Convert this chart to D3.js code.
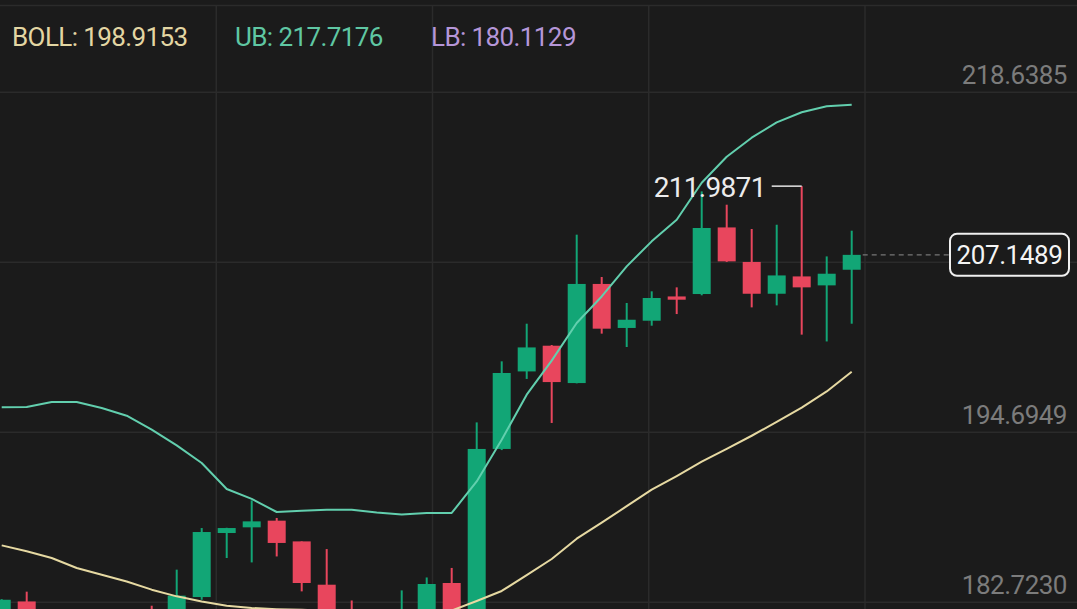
<!DOCTYPE html>
<html>
<head>
<meta charset="utf-8">
<script src="https://cdn.jsdelivr.net/npm/d3@7"></script>
<style>
  html, body { margin: 0; padding: 0; background: #1b1b1b; overflow: hidden; }
  svg { display: block; font-family: Roboto, "Noto Sans", sans-serif; }
</style>
</head>
<body>
<svg id="chart" width="1077" height="609"></svg>
<script>
// ---- data ----
const opens  = [181.5, 182.74, 181.6, 180.9, 181.3, 180.6, 181.5, 181.2, 183.05, 187.56, 187.96, 188.43, 186.97, 183.92, 182.0, 181.0, 181.3, 182.0, 184.04, 181.9, 193.48, 198.94, 200.75, 198.12, 205.10, 202.00, 202.51, 204.22, 204.39, 209.08, 206.65, 204.41, 205.63, 205.00, 206.10];
const highs  = [182.9, 183.43, 182.0, 181.9, 181.8, 181.7, 182.44, 184.98, 187.91, 187.93, 189.86, 188.62, 186.97, 186.43, 182.81, 182.0, 183.52, 184.43, 185.10, 195.35, 199.65, 202.30, 200.80, 208.57, 205.59, 203.76, 204.58, 204.86, 211.62, 210.68, 208.97, 209.27, 211.9871, 207.04, 208.85];
const lows   = [180.8, 181.0, 180.5, 180.4, 180.2, 180.0, 180.4, 180.8, 182.86, 185.80, 185.49, 185.91, 183.45, 181.2, 180.6, 180.5, 181.0, 181.7, 181.5, 181.6, 193.40, 198.41, 195.31, 198.10, 201.60, 200.66, 202.16, 202.98, 204.30, 206.65, 203.45, 203.59, 201.53, 201.05, 202.30];
const closes = [182.86, 181.6, 180.9, 181.3, 180.6, 181.0, 180.9, 183.15, 187.63, 187.91, 188.38, 186.86, 184.04, 181.6, 181.0, 181.4, 182.1, 183.97, 181.9, 193.48, 198.83, 200.63, 198.19, 205.10, 201.95, 202.58, 204.11, 203.99, 209.04, 206.69, 204.41, 205.70, 204.86, 205.82, 207.1489];
const bollMid = [186.69, 186.27, 185.80, 185.10, 184.62, 184.15, 183.57, 183.10, 182.74, 182.44, 182.28, 182.2, 182.15, 182.1, 182.0, 181.95, 181.95, 182.0, 182.1, 182.77, 183.48, 184.59, 185.73, 187.16, 188.29, 189.45, 190.61, 191.57, 192.58, 193.49, 194.41, 195.38, 196.39, 197.53, 198.9153];
const bollUB = [196.41, 196.43, 196.79, 196.79, 196.36, 195.82, 194.84, 193.73, 192.49, 190.66, 189.96, 189.04, 189.13, 189.20, 189.20, 189.01, 188.87, 188.97, 188.97, 191.19, 194.13, 197.30, 199.70, 202.35, 204.22, 206.34, 208.10, 209.62, 212.23, 214.06, 215.40, 216.48, 217.19, 217.62, 217.7176];
const bollLB = [176.97, 176.11, 174.81, 173.41, 172.88, 172.48, 172.30, 172.47, 172.99, 174.22, 174.60, 175.36, 175.17, 175.00, 174.80, 174.89, 175.03, 175.03, 175.23, 174.35, 172.83, 171.88, 171.76, 171.97, 172.36, 172.56, 173.12, 173.52, 172.93, 172.92, 173.42, 174.28, 175.59, 177.44, 180.1129];
const categories = opens.map((d, i) => i);
const yTicks = [218.6385, 206.6667, 194.6949, 182.7230];
const yTickLabels = ["218.6385", "", "194.6949", "182.7230"]; // middle label hidden behind the price tag
const legendLabels = ["BOLL", "UB", "LB"];
const legendValues = [198.9153, 217.7176, 180.1129];
const lastPrice = 207.1489;
const highMarkIndex = 32;

// ---- layout / style ----
const W = 1077, H = 609;
const plotRight = 865;
const colors = {
  bg: "#1b1b1b", grid: "#2b2b2b", axisText: "#7c7c7c",
  up: "#12a676", down: "#e8465d",
  ub: "#62cfae", mid: "#e6d9a2", lb: "#b596d8",
  legend: ["#e3d6a3", "#5fc7a3", "#b596d8"]
};

const svg = d3.select("#chart");
svg.append("rect").attr("width", W).attr("height", H).attr("fill", colors.bg);

const x = d3.scalePoint().domain(categories).range([1.7, 851.7]);
const y = d3.scaleLinear().domain([182.7230, 218.6385]).range([601.7, 91.7]);

// grid: top border
svg.append("line").attr("x1", 0).attr("x2", W).attr("y1", 5.5).attr("y2", 5.5)
  .attr("stroke", colors.grid).attr("stroke-width", 1.5);
// vertical grid
const vFracs = [0.25, 0.5, 0.75, 1];
svg.append("g").selectAll("line").data(vFracs).join("line")
  .attr("x1", d => plotRight * d).attr("x2", d => plotRight * d)
  .attr("y1", 6).attr("y2", H)
  .attr("stroke", colors.grid).attr("stroke-width", 1.5);

// horizontal grid + labels via axis
const axisG = svg.append("g").call(
  d3.axisRight(y).tickValues(yTicks).tickSize(W).tickFormat((d, i) => yTickLabels[i])
);
axisG.select(".domain").remove();
axisG.selectAll(".tick line").attr("stroke", colors.grid).attr("stroke-width", 1.5);
axisG.selectAll(".tick text")
  .attr("x", 1067).attr("dy", -8).attr("text-anchor", "end")
  .attr("fill", colors.axisText).attr("font-size", 26)
  .attr("letter-spacing", "-0.5px")
  .attr("font-family", "Roboto, sans-serif");
axisG.selectAll(".tick text").filter(function () { return this.textContent === ""; }).remove();

// plot clip
svg.append("clipPath").attr("id", "plotclip").append("rect")
  .attr("x", 0).attr("y", 6).attr("width", plotRight).attr("height", H - 6);
const plot = svg.append("g").attr("clip-path", "url(#plotclip)");

// candles
const bodyW = 18;
const candles = categories.map(i => ({i, o: opens[i], h: highs[i], l: lows[i], c: closes[i]}));
const cg = plot.append("g").selectAll("g").data(candles).join("g");
cg.append("line")
  .attr("x1", d => x(d.i)).attr("x2", d => x(d.i))
  .attr("y1", d => y(d.h)).attr("y2", d => y(d.l))
  .attr("stroke", d => d.c >= d.o ? colors.up : colors.down)
  .attr("stroke-width", 2);
cg.append("rect")
  .attr("x", d => x(d.i) - bodyW / 2)
  .attr("width", bodyW)
  .attr("y", d => y(Math.max(d.o, d.c)))
  .attr("height", d => Math.max(2, Math.abs(y(d.o) - y(d.c))))
  .attr("fill", d => d.c >= d.o ? colors.up : colors.down);

// bollinger lines
const lineGen = arr => d3.line().x((d, i) => x(categories[i])).y(d => y(d))(arr);
plot.append("path").attr("d", lineGen(bollLB)).attr("fill", "none").attr("stroke", colors.lb).attr("stroke-width", 2).attr("stroke-linejoin", "round");
plot.append("path").attr("d", lineGen(bollMid)).attr("fill", "none").attr("stroke", colors.mid).attr("stroke-width", 2).attr("stroke-linejoin", "round");
plot.append("path").attr("d", lineGen(bollUB)).attr("fill", "none").attr("stroke", colors.ub).attr("stroke-width", 2).attr("stroke-linejoin", "round");

// high marker
const hx = x(highMarkIndex), hy = y(highs[highMarkIndex]);
svg.append("line").attr("x1", hx - 30).attr("x2", hx).attr("y1", hy).attr("y2", hy)
  .attr("stroke", "#e6e6e6").attr("stroke-width", 1.5);
svg.append("text").attr("x", hx - 36).attr("y", hy + 11)
  .attr("text-anchor", "end").attr("fill", "#ececec").attr("font-size", 28)
  .attr("letter-spacing", "-0.7px")
  .text(d3.format(".4f")(highs[highMarkIndex]));

// last price dashed line + tag
const ly = y(lastPrice);
svg.append("line").attr("x1", x(categories[categories.length - 1]) + 11).attr("x2", 950)
  .attr("y1", ly).attr("y2", ly)
  .attr("stroke", "#777").attr("stroke-width", 1.2).attr("stroke-dasharray", "5,4");
svg.append("rect").attr("x", 950).attr("y", ly - 21).attr("width", 119).attr("height", 42)
  .attr("rx", 7).attr("fill", colors.bg).attr("stroke", "#f0f0f0").attr("stroke-width", 2);
svg.append("text").attr("x", 1009.5).attr("y", ly + 9.5).attr("text-anchor", "middle")
  .attr("fill", "#f4f4f4").attr("font-size", 26).attr("letter-spacing", "-0.4px")
  .text(d3.format(".4f")(lastPrice));

// legend
const legendX = [12, 235, 431];
svg.append("g").selectAll("text").data(legendLabels).join("text")
  .attr("x", (d, i) => legendX[i]).attr("y", 46)
  .attr("fill", (d, i) => colors.legend[i])
  .attr("font-size", 26).attr("letter-spacing", "-0.6px")
  .text((d, i) => `${d}: ${d3.format(".4f")(legendValues[i])}`);
</script>
</body>
</html>
